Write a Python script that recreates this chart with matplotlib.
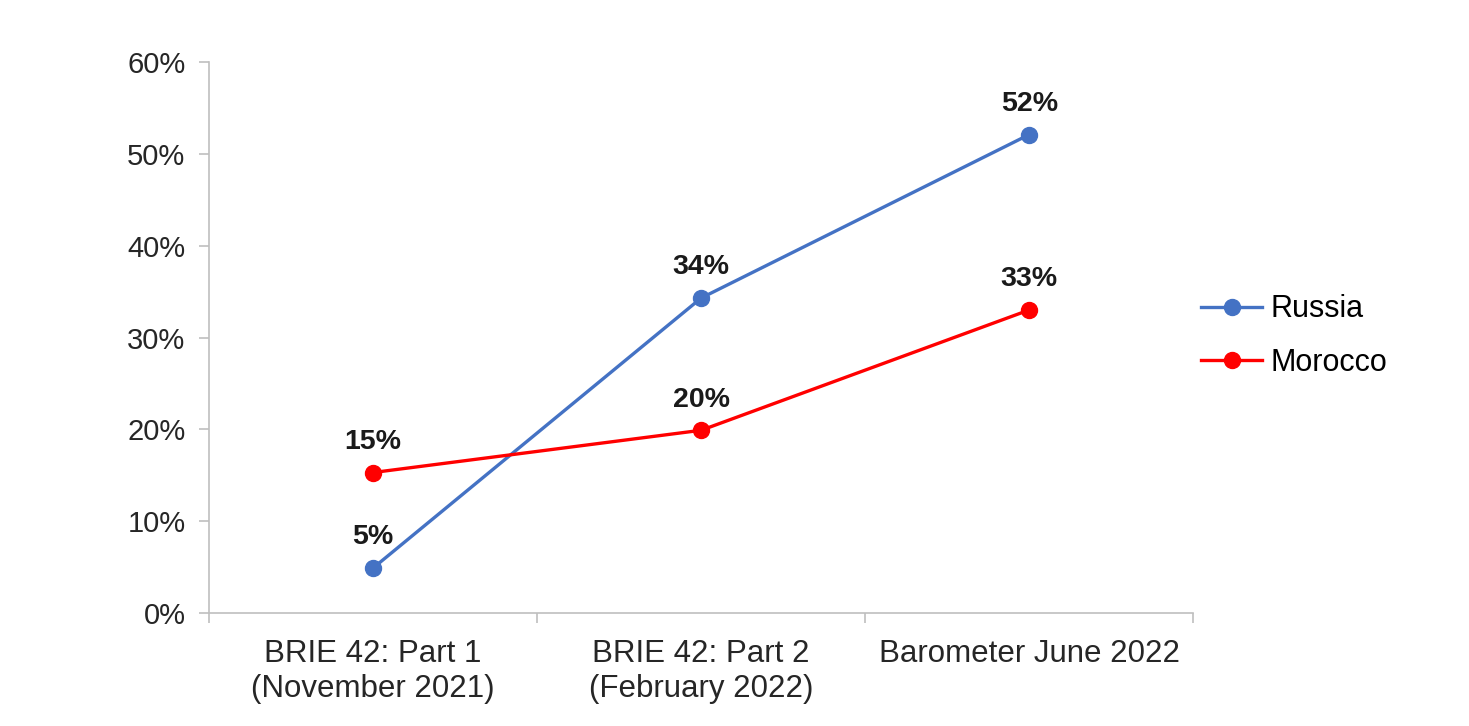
import matplotlib.pyplot as plt
import numpy as np

plt.rcParams['font.family'] = ['Liberation Sans', 'DejaVu Sans']

# data
categories = ['BRIE 42: Part 1\n(November 2021)', 'BRIE 42: Part 2\n(February 2022)', 'Barometer June 2022']
russia = [4.9, 34.3, 52.1]
morocco = [15.3, 19.9, 33.0]
russia_labels = ['5%', '34%', '52%']
morocco_labels = ['15%', '20%', '33%']

fig = plt.figure(figsize=(14.69, 7.26), dpi=100)
ax = fig.add_axes([0.1423, 0.1556, 0.6700, 0.7590])

x = np.arange(len(categories))
ax.plot(x, russia, color='#4472C4', lw=2.4, marker='o', ms=11.5, label='Russia')
ax.plot(x, morocco, color='#FF0000', lw=2.4, marker='o', ms=11.5, label='Morocco')

# value labels above each point
for xi, v, t in zip(x, russia, russia_labels):
    ax.annotate(t, (xi, v), xytext=(0, 22), textcoords='offset points',
                ha='center', va='center', fontsize=20.5, fontweight='bold', color='#1a1a1a')
for xi, v, t in zip(x, morocco, morocco_labels):
    ax.annotate(t, (xi, v), xytext=(0, 22), textcoords='offset points',
                ha='center', va='center', fontsize=20.5, fontweight='bold', color='#1a1a1a')

ax.set_xlim(-0.5, 2.5)
ax.set_ylim(0, 60)
ax.set_yticks(range(0, 61, 10))
ax.set_yticklabels([f'{v}%' for v in range(0, 61, 10)])
ax.set_xticks(x)
ax.set_xticklabels(categories, linespacing=1.2)
ax.set_xticks([-0.5, 0.5, 1.5, 2.5], minor=True)
ax.tick_params(axis='x', which='major', length=0, pad=19, labelsize=22.5, labelcolor='#262626')
ax.tick_params(axis='x', which='minor', length=7, width=1.2, color='#BFBFBF', direction='out')
ax.tick_params(axis='y', length=7, width=1.2, color='#BFBFBF', labelsize=21, labelcolor='#262626', pad=10)

for s in ['top', 'right']:
    ax.spines[s].set_visible(False)
for s in ['left', 'bottom']:
    ax.spines[s].set_color('#BFBFBF')
    ax.spines[s].set_linewidth(1.2)

fig.legend(loc='center left', bbox_to_anchor=(0.8074, 0.5372), frameon=False, fontsize=22,
           borderpad=0, handlelength=2.0, handletextpad=0.27, labelspacing=0.76)

fig.savefig('out.png', dpi=100)
